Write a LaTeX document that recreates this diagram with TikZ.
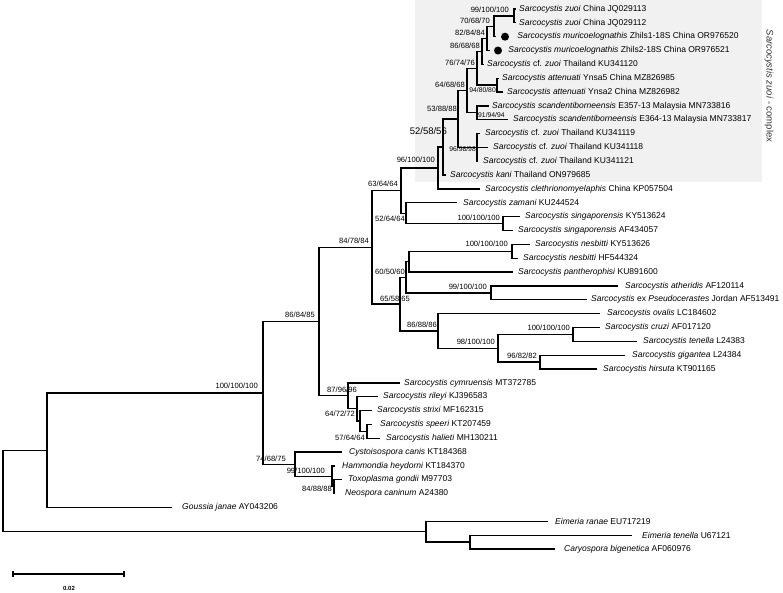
\documentclass[tikz,border=0pt]{standalone}
\usepackage{fontspec}
\setmainfont{Liberation Sans}
\usepackage{tikz}
\usetikzlibrary{positioning}
\definecolor{boxgray}{HTML}{F1F1F1}
\tikzset{br/.style={line width=1.3pt}}
\tikzset{taxon/.style={inner sep=0pt,font=\fontsize{8.5}{10}\selectfont}}
\tikzset{boot/.style={anchor=east,inner sep=0pt,font=\fontsize{7.6}{9}\selectfont}}
\tikzset{bootsm/.style={boot,font=\fontsize{6.8}{8}\selectfont}}
\tikzset{dotmark/.style={circle,fill=black,inner sep=0pt,minimum size=8pt}}

\begin{document}
\begin{tikzpicture}[x=1pt,y=-1pt]
        \useasboundingbox (0,0) rectangle (783,593);
        \fill[boxgray] (415,0) rectangle (762,182);
        \node[rotate=-90,inner sep=0pt,font=\fontsize{9.5}{11}\selectfont,text=black!80] (cplx) at (769,86) {\textit{Sarcocystis zuoi} - complex};

        % tips
        \coordinate (l1) at (516,9);
        \coordinate (l2) at (516,22.85);
        \coordinate (l3) at (496,36.69);
        \coordinate (l4) at (490,50.54);
        \coordinate (l5) at (484,64.38);
        \coordinate (l6) at (499,78.23);
        \coordinate (l7) at (503,92.08);
        \coordinate (l8) at (489,105.92);
        \coordinate (l9) at (508,119.77);
        \coordinate (l10) at (480,133.61);
        \coordinate (l11) at (488,147.46);
        \coordinate (l12) at (478,161.31);
        \coordinate (l13) at (446,175.15);
        \coordinate (l14) at (480,189);
        \coordinate (l15) at (457,202.85);
        \coordinate (l16) at (520,216.69);
        \coordinate (l17) at (513,230.54);
        \coordinate (l18) at (530,244.38);
        \coordinate (l19) at (518,258.23);
        \coordinate (l20) at (513,272.08);
        \coordinate (l21) at (618,285.92);
        \coordinate (l22) at (587,299.77);
        \coordinate (l23) at (600,313.61);
        \coordinate (l24) at (600,327.46);
        \coordinate (l25) at (637,341.31);
        \coordinate (l26) at (625,355.15);
        \coordinate (l27) at (597,369);
        \coordinate (l28) at (400,382.85);
        \coordinate (l29) at (378,396.69);
        \coordinate (l30) at (372,410.54);
        \coordinate (l31) at (372,424.38);
        \coordinate (l32) at (380,438.23);
        \coordinate (l33) at (342,452.08);
        \coordinate (l34) at (335,465.92);
        \coordinate (l35) at (342,479.77);
        \coordinate (l36) at (335,493.61);
        \coordinate (l37) at (172,507.46);
        \coordinate (l38) at (548,521.31);
        \coordinate (l39) at (632,535.15);
        \coordinate (l40) at (555,549);

        % inner nodes
        \coordinate (n1) at (514,15.92);
        \coordinate (n2) at (494,26.31);
        \coordinate (n3) at (487,38.42);
        \coordinate (n4) at (482,51.40);
        \coordinate (natt) at (497,85.15);
        \coordinate (n5) at (477,68.28);
        \coordinate (nsc) at (477,112.85);
        \coordinate (n6) at (467,90.56);
        \coordinate (nku) at (477,147.46);
        \coordinate (n7) at (458,119.01);
        \coordinate (n8) at (443,147.08);
        \coordinate (n9) at (438,168.04);
        \coordinate (nsg) at (503,223.62);
        \coordinate (nza) at (406,213.23);
        \coordinate (n63) at (401,190.63);
        \coordinate (nnes) at (512,251.31);
        \coordinate (npan) at (409,261.69);
        \coordinate (nath) at (491,292.85);
        \coordinate (n60) at (406,277.27);
        \coordinate (ncru) at (573,334.38);
        \coordinate (ngig) at (540,362.08);
        \coordinate (n98) at (498,348.23);
        \coordinate (nov) at (438,330.92);
        \coordinate (n65) at (400,304.10);
        \coordinate (n84) at (372,247.36);
        \coordinate (nhal) at (367,431.31);
        \coordinate (nstr) at (360,420.92);
        \coordinate (nril) at (357,408.81);
        \coordinate (ncym) at (348,395.83);
        \coordinate (nsar) at (319,321.60);
        \coordinate (ntox) at (334,486.69);
        \coordinate (nham) at (332,476.31);
        \coordinate (ncys) at (295,464.19);
        \coordinate (nall) at (263,392.89);
        \coordinate (ngou) at (47,450.17);
        \coordinate (nei2) at (470,542.08);
        \coordinate (nei) at (426,531.69);
        \coordinate (root) at (3,490.93);

        % branches
        \draw[br] (n1) |- (l1) (n1) |- (l2);
        \draw[br] (n2) |- (n1) (n2) |- (l3);
        \draw[br] (n3) |- (n2) (n3) |- (l4);
        \draw[br] (n4) |- (n3) (n4) |- (l5);
        \draw[br] (natt) |- (l6) (natt) |- (l7);
        \draw[br] (n5) |- (n4) (n5) |- (natt);
        \draw[br] (nsc) |- (l8) (nsc) |- (l9);
        \draw[br] (n6) |- (n5) (n6) |- (nsc);
        \draw[br] (nku) |- (l10) (nku) |- (l11) (nku) |- (l12);
        \draw[br] (n7) |- (n6) (n7) |- (nku);
        \draw[br] (n8) |- (n7) (n8) |- (l13);
        \draw[br] (n9) |- (n8) (n9) |- (l14);
        \draw[br] (nsg) |- (l16) (nsg) |- (l17);
        \draw[br] (nza) |- (l15) (nza) |- (nsg);
        \draw[br] (n63) |- (n9) (n63) |- (nza);
        \draw[br] (nnes) |- (l18) (nnes) |- (l19);
        \draw[br] (npan) |- (nnes) (npan) |- (l20);
        \draw[br] (nath) |- (l21) (nath) |- (l22);
        \draw[br] (n60) |- (npan) (n60) |- (nath);
        \draw[br] (ncru) |- (l24) (ncru) |- (l25);
        \draw[br] (ngig) |- (l26) (ngig) |- (l27);
        \draw[br] (n98) |- (ncru) (n98) |- (ngig);
        \draw[br] (nov) |- (l23) (nov) |- (n98);
        \draw[br] (n65) |- (n60) (n65) |- (nov);
        \draw[br] (n84) |- (n63) (n84) |- (n65);
        \draw[br] (nhal) |- (l31) (nhal) |- (l32);
        \draw[br] (nstr) |- (l30) (nstr) |- (nhal);
        \draw[br] (nril) |- (l29) (nril) |- (nstr);
        \draw[br] (ncym) |- (l28) (ncym) |- (nril);
        \draw[br] (nsar) |- (n84) (nsar) |- (ncym);
        \draw[br] (ntox) |- (l35) (ntox) |- (l36);
        \draw[br] (nham) |- (l34) (nham) |- (ntox);
        \draw[br] (ncys) |- (l33) (ncys) |- (nham);
        \draw[br] (nall) |- (nsar) (nall) |- (ncys);
        \draw[br] (ngou) |- (nall) (ngou) |- (l37);
        \draw[br] (nei2) |- (l39) (nei2) |- (l40);
        \draw[br] (nei) |- (l38) (nei) |- (nei2);
        \draw[br] (root) |- (ngou) (root) |- (nei);

        % markers
        \node[dotmark] (d3) at (505,36.69) {};
        \node[dotmark] (d4) at (498,50.54) {};

        % taxa
        \node[taxon,right=3pt of l1] (t1) {\textit{Sarcocystis zuoi} China JQ029113};
        \node[taxon,right=3pt of l2] (t2) {\textit{Sarcocystis zuoi} China JQ029112};
        \node[taxon,right=8pt of d3] (t3) {\textit{Sarcocystis muricoelognathis} Zhils1-18S China OR976520};
        \node[taxon,right=6pt of d4] (t4) {\textit{Sarcocystis muricoelognathis} Zhils2-18S China OR976521};
        \node[taxon,right=3pt of l5] (t5) {\textit{Sarcocystis} cf. \textit{zuoi} Thailand KU341120};
        \node[taxon,right=3pt of l6] (t6) {\textit{Sarcocystis attenuati} Ynsa5 China MZ826985};
        \node[taxon,right=4pt of l7] (t7) {\textit{Sarcocystis attenuati} Ynsa2 China MZ826982};
        \node[taxon,right=3pt of l8] (t8) {\textit{Sarcocystis scandentiborneensis} E357-13 Malaysia MN733816};
        \node[taxon,right=5pt of l9] (t9) {\textit{Sarcocystis scandentiborneensis} E364-13 Malaysia MN733817};
        \node[taxon,right=5pt of l10] (t10) {\textit{Sarcocystis} cf. \textit{zuoi} Thailand KU341119};
        \node[taxon,right=5pt of l11] (t11) {\textit{Sarcocystis} cf. \textit{zuoi} Thailand KU341118};
        \node[taxon,right=5pt of l12] (t12) {\textit{Sarcocystis} cf. \textit{zuoi} Thailand KU341121};
        \node[taxon,right=4pt of l13] (t13) {\textit{Sarcocystis kani} Thailand ON979685};
        \node[taxon,right=5pt of l14] (t14) {\textit{Sarcocystis clethrionomyelaphis} China KP057504};
        \node[taxon,right=6pt of l15] (t15) {\textit{Sarcocystis zamani} KU244524};
        \node[taxon,right=5pt of l16] (t16) {\textit{Sarcocystis singaporensis} KY513624};
        \node[taxon,right=5pt of l17] (t17) {\textit{Sarcocystis singaporensis} AF434057};
        \node[taxon,right=5pt of l18] (t18) {\textit{Sarcocystis nesbitti} KY513626};
        \node[taxon,right=5pt of l19] (t19) {\textit{Sarcocystis nesbitti} HF544324};
        \node[taxon,right=5pt of l20] (t20) {\textit{Sarcocystis pantherophisi} KU891600};
        \node[taxon,right=7pt of l21] (t21) {\textit{Sarcocystis atheridis} AF120114};
        \node[taxon,right=4pt of l22] (t22) {\textit{Sarcocystis} ex \textit{Pseudocerastes} Jordan AF513491};
        \node[taxon,right=7pt of l23] (t23) {\textit{Sarcocystis ovalis} LC184602};
        \node[taxon,right=5pt of l24] (t24) {\textit{Sarcocystis cruzi} AF017120};
        \node[taxon,right=6pt of l25] (t25) {\textit{Sarcocystis tenella} L24383};
        \node[taxon,right=7pt of l26] (t26) {\textit{Sarcocystis gigantea} L24384};
        \node[taxon,right=6pt of l27] (t27) {\textit{Sarcocystis hirsuta} KT901165};
        \node[taxon,right=4pt of l28] (t28) {\textit{Sarcocystis cymruensis} MT372785};
        \node[taxon,right=5pt of l29] (t29) {\textit{Sarcocystis rileyi} KJ396583};
        \node[taxon,right=5pt of l30] (t30) {\textit{Sarcocystis strixi} MF162315};
        \node[taxon,right=8pt of l31] (t31) {\textit{Sarcocystis speeri} KT207459};
        \node[taxon,right=6pt of l32] (t32) {\textit{Sarcocystis halieti} MH130211};
        \node[taxon,right=7pt of l33] (t33) {\textit{Cystoisospora canis} KT184368};
        \node[taxon,right=7pt of l34] (t34) {\textit{Hammondia heydorni} KT184370};
        \node[taxon,right=6pt of l35] (t35) {\textit{Toxoplasma gondii} M97703};
        \node[taxon,right=10pt of l36] (t36) {\textit{Neospora caninum} A24380};
        \node[taxon,right=10pt of l37] (t37) {\textit{Goussia janae} AY043206};
        \node[taxon,right=7pt of l38] (t38) {\textit{Eimeria ranae} EU717219};
        \node[taxon,right=10pt of l39] (t39) {\textit{Eimeria tenella} U67121};
        \node[taxon,right=9pt of l40] (t40) {\textit{Caryospora bigenetica} AF060976};

        % support values
        \node[boot] (b1) at (509,10) {99/100/100};
        \node[boot] (b2) at (490,21) {70/68/70};
        \node[boot] (b3) at (485,33) {82/84/84};
        \node[boot] (b4) at (480,46) {86/68/68};
        \node[boot] (b5) at (475,63) {76/74/76};
        \node[boot] (b6) at (465,85) {64/68/68};
        \node[bootsm] (batt) at (496,90.5) {94/80/80};
        \node[bootsm,anchor=west] (bsc) at (478,115.5) {91/94/94};
        \node[bootsm] (bku) at (476,149) {96/98/98};
        \node[boot] (b7) at (457,109) {53/88/88};
        \node[boot,font=\fontsize{9.5}{11}\selectfont] (b8) at (447,131) {52/58/56};
        \node[boot] (b9) at (435,160) {96/100/100};
        \node[boot] (b63) at (398,184) {63/64/64};
        \node[boot] (bza) at (405,218.5) {52/64/64};
        \node[boot] (bsg) at (500,217.5) {100/100/100};
        \node[boot] (bnes) at (508,243.5) {100/100/100};
        \node[boot] (b60) at (405,271.5) {60/50/60};
        \node[boot] (bath) at (487,286.5) {99/100/100};
        \node[boot] (b65) at (410,298.5) {65/58/65};
        \node[boot] (bov) at (437,324.5) {86/88/86};
        \node[boot] (b98) at (495,341.5) {98/100/100};
        \node[boot] (bcru) at (570,327.5) {100/100/100};
        \node[boot] (bgig) at (537,355.5) {96/82/82};
        \node[boot] (b84) at (369,240.5) {84/78/84};
        \node[boot] (bsar) at (315,314.5) {86/84/85};
        \node[boot] (ball) at (258,385.5) {100/100/100};
        \node[boot] (bcym) at (357,389.5) {87/96/96};
        \node[boot] (bril) at (355,413.5) {64/72/72};
        \node[boot] (bhal) at (365,437.5) {57/64/64};
        \node[boot] (bcys) at (286,458.5) {74/68/75};
        \node[boot] (bham) at (325,470.5) {99/100/100};
        \node[boot] (btox) at (332,488.5) {84/88/88};

        % scale
        \coordinate (s0) at (13,574);
        \coordinate (s1) at (124,574);
        \draw[line width=1.4pt] (s0) -- (s1);
        \draw[line width=1.2pt] ([yshift=-3pt]s0) -- ([yshift=3pt]s0);
        \draw[line width=1.2pt] ([yshift=-3pt]s1) -- ([yshift=3pt]s1);
        \node[inner sep=0pt,font=\bfseries\fontsize{6}{7}\selectfont] (slab) at (69,588) {0.02};
\end{tikzpicture}
\end{document}
